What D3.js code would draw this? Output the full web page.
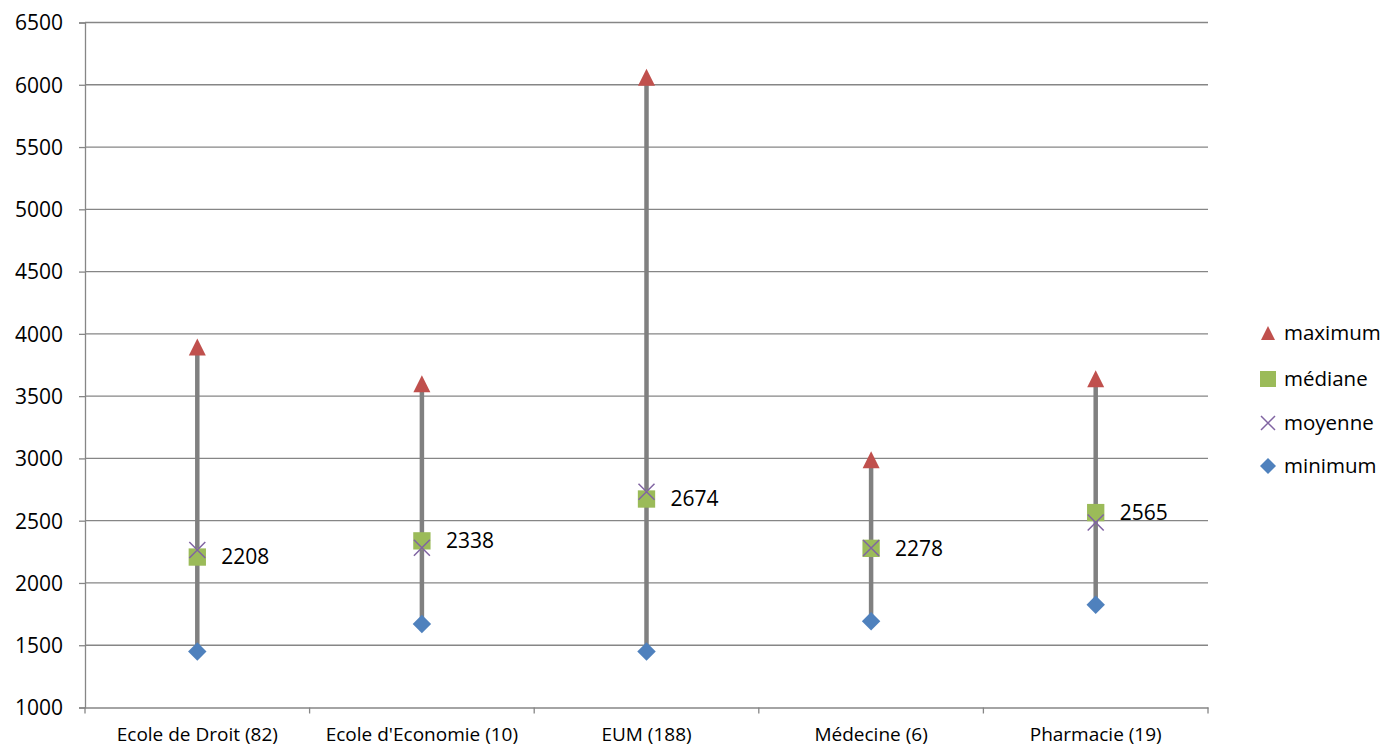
<!DOCTYPE html>
<html><head><meta charset="utf-8">
<script src="https://cdn.jsdelivr.net/npm/d3@7"></script>
<style>body{margin:0;background:#fff}svg{display:block}text{font-family:"Open Sans",sans-serif;fill:#000}</style>
</head><body><svg id="c" width="1386" height="749"></svg>
<script>
const categories = ["Ecole de Droit (82)","Ecole d'Economie (10)","EUM (188)","Médecine (6)","Pharmacie (19)"];
const maximum = [3895, 3600, 6060, 2990, 3640];
const mediane = [2208, 2338, 2674, 2278, 2565];
const moyenne = [2265, 2283, 2732, 2280, 2485];
const minimum = [1450, 1670, 1450, 1692, 1825];
const yTicks = [1000,1500,2000,2500,3000,3500,4000,4500,5000,5500,6000,6500];
const seriesNames = ["maximum","médiane","moyenne","minimum"];
const seriesColors = ["#C0504D","#9BBB59","#8064A2","#4F81BD"];

const svg = d3.select("#c");
const L = 85, R = 1208, T = 22.5, B = 707.5;
const x = d3.scaleBand().domain(categories).range([L, R]);
const y = d3.scaleLinear().domain([1000, 6500]).range([B, T]);
const grey = "#868686";

svg.append("g").selectAll("line").data(yTicks.slice(1)).join("line")
  .attr("x1", L).attr("x2", R).attr("y1", d => y(d)).attr("y2", d => y(d))
  .attr("stroke", grey).attr("stroke-width", 1.3);

const ya = svg.append("g").attr("transform", `translate(${L},0)`)
  .call(d3.axisLeft(y).tickValues(yTicks).tickSize(6).tickPadding(16).tickFormat(d3.format("d")));
ya.select(".domain").attr("stroke", grey).attr("stroke-width", 1.3);
ya.selectAll(".tick line").attr("stroke", grey).attr("stroke-width", 1.3);
ya.selectAll("text").style("font-size", "21px").attr("fill", "#000").attr("dy", "0.35em");

const xa = svg.append("g").attr("transform", `translate(0,${B})`)
  .call(d3.axisBottom(x).tickSize(0).tickPadding(20));
xa.select(".domain").attr("stroke", grey).attr("stroke-width", 1.3);
xa.selectAll("text").style("font-size", "19px").attr("fill", "#000");
const bounds = [L, ...categories.map(c => x(c) + x.bandwidth())];
svg.append("g").selectAll("line").data(bounds).join("line")
  .attr("x1", d => d).attr("x2", d => d).attr("y1", B).attr("y2", B + 6)
  .attr("stroke", grey).attr("stroke-width", 1.3);

const cx = c => x(c) + x.bandwidth() / 2;

svg.append("g").selectAll("line").data(categories).join("line")
  .attr("x1", cx).attr("x2", cx)
  .attr("y1", (c, i) => y(minimum[i])).attr("y2", (c, i) => y(maximum[i]))
  .attr("stroke", "#808080").attr("stroke-width", 4.5);

const sym = {
  sq: d3.symbol().type(d3.symbolSquare).size(300),
  dia: d3.symbol().type(d3.symbolSquare).size(170)
};

svg.append("g").selectAll("path").data(categories).join("path")
  .attr("d", sym.dia())
  .attr("transform", (c, i) => `translate(${cx(c)},${y(minimum[i])}) rotate(45)`)
  .attr("fill", seriesColors[3]);
svg.append("g").selectAll("path").data(categories).join("path")
  .attr("d", sym.sq())
  .attr("transform", (c, i) => `translate(${cx(c)},${y(mediane[i])})`)
  .attr("fill", seriesColors[1]);
svg.append("g").selectAll("path").data(categories).join("path")
  .attr("d", "M-8,-8L8,8M-8,8L8,-8")
  .attr("transform", (c, i) => `translate(${cx(c)},${y(moyenne[i])})`)
  .attr("stroke", seriesColors[2]).attr("stroke-width", 1.5).attr("fill", "none");
svg.append("g").selectAll("path").data(categories).join("path")
  .attr("d", "M0,-8.5L8.5,8.5L-8.5,8.5Z")
  .attr("transform", (c, i) => `translate(${cx(c)},${y(maximum[i])})`)
  .attr("fill", seriesColors[0]);

svg.append("g").selectAll("text").data(categories).join("text")
  .attr("x", c => cx(c) + 24).attr("y", (c, i) => y(mediane[i])).attr("dy", "0.35em")
  .style("font-size", "21px").text((c, i) => mediane[i]);

const lg = svg.append("g");
const ly = [333, 379, 423, 466];
const lshapes = ["M0,-7L7,7L-7,7Z", "M-8,-8H8V8H-8Z", "M-7,-7L7,7M-7,7L7,-7", "M0,-8L8,0L0,8L-8,0Z"];
seriesNames.forEach((n, i) => {
  const g = lg.append("g").attr("transform", `translate(1268,${ly[i]})`);
  const p = g.append("path").attr("d", lshapes[i]);
  if (i === 2) p.attr("stroke", seriesColors[i]).attr("stroke-width", 1.5).attr("fill", "none");
  else p.attr("fill", seriesColors[i]);
  g.append("text").attr("x", 16).attr("dy", "0.35em").style("font-size", "20.5px").text(n);
});
</script></body></html>
